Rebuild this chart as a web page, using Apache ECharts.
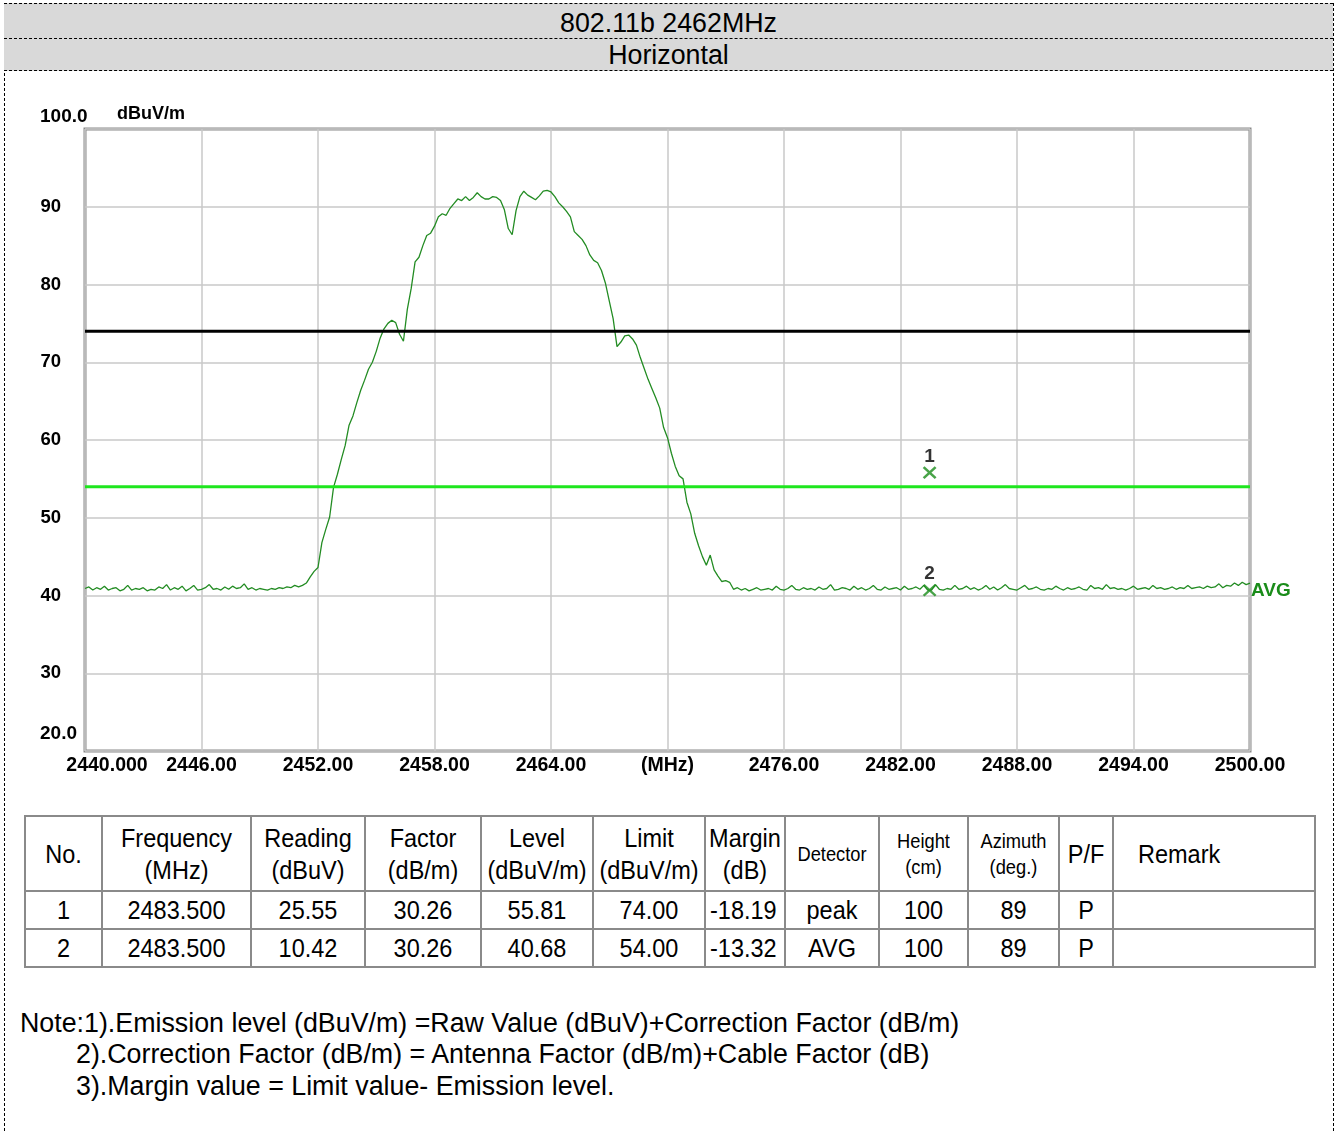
<!DOCTYPE html>
<html><head><meta charset="utf-8">
<script src="https://cdn.jsdelivr.net/npm/echarts@6/dist/echarts.min.js"></script>
<style>
html,body{margin:0;padding:0;background:#fff;}
body{width:1338px;height:1131px;position:relative;overflow:hidden;font-family:"Liberation Sans",Arial,sans-serif;color:#000;}
.vl{position:absolute;top:3px;height:1128px;border-left:1px dashed #000;}
.hrow{position:absolute;left:4px;width:1329px;background:#d9d9d9;border-bottom:1px dashed #000;text-align:center;font-size:26.8px;}
#chart{position:absolute;left:0;top:72px;width:1338px;height:740px;}
table.data{position:absolute;left:24px;top:815px;border-collapse:collapse;table-layout:fixed;width:1290px;}
table.data td{border:2px solid #8a8a8a;text-align:center;padding:0;font-size:23.5px;white-space:nowrap;overflow:hidden;}
.st{display:inline-block;transform:scaleY(1.12);}
.sm{font-size:18.3px;line-height:23px;}
.notes{position:absolute;left:20px;font-size:26.8px;white-space:nowrap;}
</style></head>
<body>
<div class="vl" style="left:4px"></div>
<div class="vl" style="left:1333px"></div>
<div class="hrow" style="top:3px;height:34px;line-height:38px;border-top:1px dashed #000;" id="title1"></div>
<div class="hrow" style="top:39px;height:31px;line-height:33px;" id="title2"></div>
<div id="chart"></div>
<table class="data" id="tbl"></table>
<div class="notes" id="n1" style="top:1008px"></div>
<div class="notes" id="n2" style="top:1039px;left:76px"></div>
<div class="notes" id="n3" style="top:1071px;left:76px"></div>
<script>
// ---------------- data ----------------
const titleLine1 = '802.11b 2462MHz';
const titleLine2 = 'Horizontal';
const yUnit = 'dBuV/m';
const yTickLabels = {100:'100.0',90:'90',80:'80',70:'70',60:'60',50:'50',40:'40',30:'30',20:'20.0'};
const xTickLabels = ['2440.000','2446.00','2452.00','2458.00','2464.00','(MHz)','2476.00','2482.00','2488.00','2494.00','2500.00'];
const START_MHZ = 2440, STEP_MHZ = 0.2;   // sweep start and point spacing
const traceLevel = [
 40.9,41.1,40.7,41.0,40.8,41.2,40.7,40.9,41.0,40.6,
 40.8,41.3,40.7,40.9,40.8,41.0,40.6,40.8,40.7,41.1,
 40.9,41.4,40.7,41.0,40.8,41.2,40.6,40.9,41.3,40.7,
 40.8,41.0,41.4,40.8,40.9,40.7,41.1,40.8,41.2,40.9,
 41.0,41.5,40.8,41.0,40.7,40.9,40.8,40.7,40.9,40.8,
 41.0,40.9,41.1,41.0,41.3,41.1,
 41.3,41.6,42.4,43.1,43.6,46.8,48.5,50.1,53.9,55.6,
 57.5,59.3,61.9,63.1,64.8,66.4,67.7,69.1,70.0,71.4,
 73.1,74.3,75.0,75.4,75.1,73.6,72.7,76.8,79.5,82.9,
 83.5,85.0,86.3,86.6,87.5,88.7,89.1,88.9,89.8,90.4,
 91.0,90.8,91.3,90.8,91.2,91.8,91.3,91.0,91.0,91.3,
 91.2,90.8,89.6,87.2,86.4,89.5,91.3,92.0,91.5,91.2,
 90.9,91.4,92.0,92.1,91.9,91.3,90.5,90.0,89.4,88.7,
 86.8,86.3,85.8,85.0,83.8,83.1,82.8,81.8,80.2,77.9,
 75.6,72.0,72.6,73.4,73.5,73.0,72.2,70.6,69.2,67.8,
 66.6,65.4,64.1,61.6,60.3,58.3,56.6,55.4,55.0,52.0,
 50.5,48.0,46.4,45.0,43.9,45.2,43.3,42.5,41.8,41.9,
 41.7,40.8,41.0,
 40.7,40.9,40.6,40.8,41.0,40.7,40.8,40.9,40.7,41.2,
 40.8,40.7,40.9,41.3,40.8,40.7,41.0,40.8,40.9,40.7,
 41.1,40.8,40.9,41.4,40.7,40.8,41.0,40.9,40.7,41.2,
 40.8,41.0,40.7,40.9,41.3,40.8,40.7,41.1,40.8,40.9,
 41.0,40.7,41.2,40.8,40.9,41.1,40.8,41.3,40.7,40.7,
 41.4,40.8,40.7,40.9,40.8,41.3,40.8,40.9,41.2,40.8,
 41.0,40.7,40.9,41.3,40.8,41.1,40.7,41.0,41.4,40.9,
 40.8,40.7,41.0,41.3,40.8,40.9,41.1,40.8,40.7,40.9,
 40.8,41.2,40.9,40.7,41.0,40.8,40.9,41.1,40.8,40.7,
 41.3,40.9,41.0,40.8,41.4,40.9,41.0,40.8,40.9,40.7,
 40.9,41.2,40.8,40.9,41.0,40.8,41.3,40.9,41.0,40.8,
 40.9,41.1,40.8,41.0,40.9,41.3,40.9,41.0,41.1,40.9,
 41.2,41.0,41.1,41.5,41.0,41.3,41.2,41.6,41.3,41.7,
 41.4,41.6
];
const traceName = 'AVG';
const limitPeak = 74;
const limitAvg = 54;
const markerFreq = [2483.5, 2483.5];
const markerLevel = [55.81, 40.68];
const markerNames = ['1', '2'];

const tableHead = ['No.','Frequency<br>(MHz)','Reading<br>(dBuV)','Factor<br>(dB/m)','Level<br>(dBuV/m)','Limit<br>(dBuV/m)','Margin<br>(dB)','Detector','Height<br>(cm)','Azimuth<br>(deg.)','P/F','Remark'];
const rowNo = ['1','2'];
const rowFreq = ['2483.500','2483.500'];
const rowReading = ['25.55','10.42'];
const rowFactor = ['30.26','30.26'];
const rowLevel = ['55.81','40.68'];
const rowLimit = ['74.00','54.00'];
const rowMargin = ['-18.19','-13.32'];
const rowDetector = ['peak','AVG'];
const rowHeight = ['100','100'];
const rowAzimuth = ['89','89'];
const rowPF = ['P','P'];
const rowRemark = ['',''];
const notes = [
 'Note:1).Emission level (dBuV/m) =Raw Value (dBuV)+Correction Factor (dB/m)',
 '2).Correction Factor (dB/m) = Antenna Factor (dB/m)+Cable Factor (dB)',
 '3).Margin value = Limit value- Emission level.'
];

// ---------------- html parts ----------------
document.getElementById('title1').textContent = titleLine1;
document.getElementById('title2').textContent = titleLine2;
const colW = [77,149,114,116,112,112,80,94,89,91,54,202];
let html = '<colgroup>' + colW.map(w=>'<col style="width:'+w+'px">').join('') + '</colgroup>';
html += '<tr style="height:75px">' + tableHead.map((h,i)=>{
  const small = (i===7||i===8||i===9);
  const lh = small ? '' : 'line-height:28px;';
  const al = (i===11) ? 'text-align:left;padding-left:24px;' : '';
  return '<td style="'+al+'"><div class="'+(small?'sm':'')+'" style="'+lh+'"><span class="st">'+h+'</span></div></td>';
}).join('') + '</tr>';
for (let r=0;r<rowNo.length;r++){
  const cells=[rowNo[r],rowFreq[r],rowReading[r],rowFactor[r],rowLevel[r],rowLimit[r],rowMargin[r],rowDetector[r],rowHeight[r],rowAzimuth[r],rowPF[r],rowRemark[r]];
  html += '<tr style="height:38px">' + cells.map((c,i)=>{
    const al = (i===6)?'text-align:left;padding-left:4px;':'';
    return '<td style="'+al+'"><span class="st">'+c+'</span></td>';
  }).join('') + '</tr>';
}
document.getElementById('tbl').innerHTML = html;
['n1','n2','n3'].forEach((id,i)=>{document.getElementById(id).textContent=notes[i];});

// ---------------- chart ----------------
const tracePoints = traceLevel.map((v,i)=>[+(START_MHZ+i*STEP_MHZ).toFixed(2), v]);
const markerPoints = markerFreq.map((f,i)=>({value:[f, markerLevel[i]], name:markerNames[i]}));
const FONT = '"Liberation Sans", Arial, sans-serif';
const chart = echarts.init(document.getElementById('chart'), null, {renderer:'canvas'});
const gridTop = 57, gridLeft = 85, gridW = 1165, gridH = 622;
chart.setOption({
  animation:false,
  backgroundColor:'transparent',
  grid:{left:gridLeft, top:gridTop, width:gridW, height:gridH, show:true, borderColor:'#8a8a8a', borderWidth:3, backgroundColor:'#fff', z:0},
  xAxis:{type:'value', min:2440, max:2500, interval:6,
    axisLine:{show:false}, axisTick:{show:false},
    splitLine:{show:true, lineStyle:{color:'#c8c8c8', width:1.5}},
    axisLabel:{margin:5, color:'#000', fontFamily:FONT, fontWeight:'bold', fontSize:19.5,
      formatter:(v)=>{const i=Math.round((v-2440)/6); return i===0?'{first|'+xTickLabels[i]+'}':xTickLabels[i];},
      rich:{first:{padding:[0,0,0,44], color:'#000', fontFamily:FONT, fontWeight:'bold', fontSize:19.5}}}
  },
  yAxis:{type:'value', min:20, max:100, interval:10,
    axisLine:{show:false}, axisTick:{show:false},
    splitLine:{show:true, lineStyle:{color:'#c8c8c8', width:1.5}},
    axisLabel:{margin:24, color:'#000', fontFamily:FONT, fontWeight:'bold', fontSize:18.5,
      showMinLabel:false, showMaxLabel:false,
      formatter:(v)=>yTickLabels[v]||''}
  },
  series:[
    {type:'line', name:traceName, data:tracePoints, showSymbol:false, z:3,
     lineStyle:{color:'#238c23', width:1.3},
     endLabel:{show:true, formatter:traceName, color:'#1a8c1a', fontFamily:FONT, fontWeight:'bold', fontSize:19, distance:1, offset:[0,8]}},
    {type:'line', data:[[2440,limitPeak],[2500,limitPeak]], showSymbol:false, z:4,
     lineStyle:{color:'#000', width:3}},
    {type:'line', data:[[2440,limitAvg],[2500,limitAvg]], showSymbol:false, z:4,
     lineStyle:{color:'#1ee61e', width:3}},
    {type:'scatter', data:markerPoints, z:5,
     symbol:'path://M0,0L10,10M10,0L0,10', symbolSize:[12,11],
     itemStyle:{color:'transparent', borderColor:'#1a8c1a', borderWidth:2.4},
     label:{show:true, position:'top', distance:0, formatter:(p)=>p.name, color:'#000', fontFamily:FONT, fontWeight:'bold', fontSize:19}}
  ]
});
const pTop = chart.convertToPixel({xAxisIndex:0, yAxisIndex:0}, [2440, 100]);
const pBot = chart.convertToPixel({xAxisIndex:0, yAxisIndex:0}, [2440, 20]);
chart.setOption({graphic:[
  {type:'text', left:40, top:pTop[1]-22, style:{text:yTickLabels[100], fill:'#000', font:'bold 19px '+FONT}},
  {type:'text', left:117, top:pTop[1]-24, style:{text:yUnit, fill:'#000', font:'bold 18px '+FONT}},
  {type:'text', left:40, top:pBot[1]-27, style:{text:yTickLabels[20], fill:'#000', font:'bold 19px '+FONT}}
]});
</script>
</body></html>
